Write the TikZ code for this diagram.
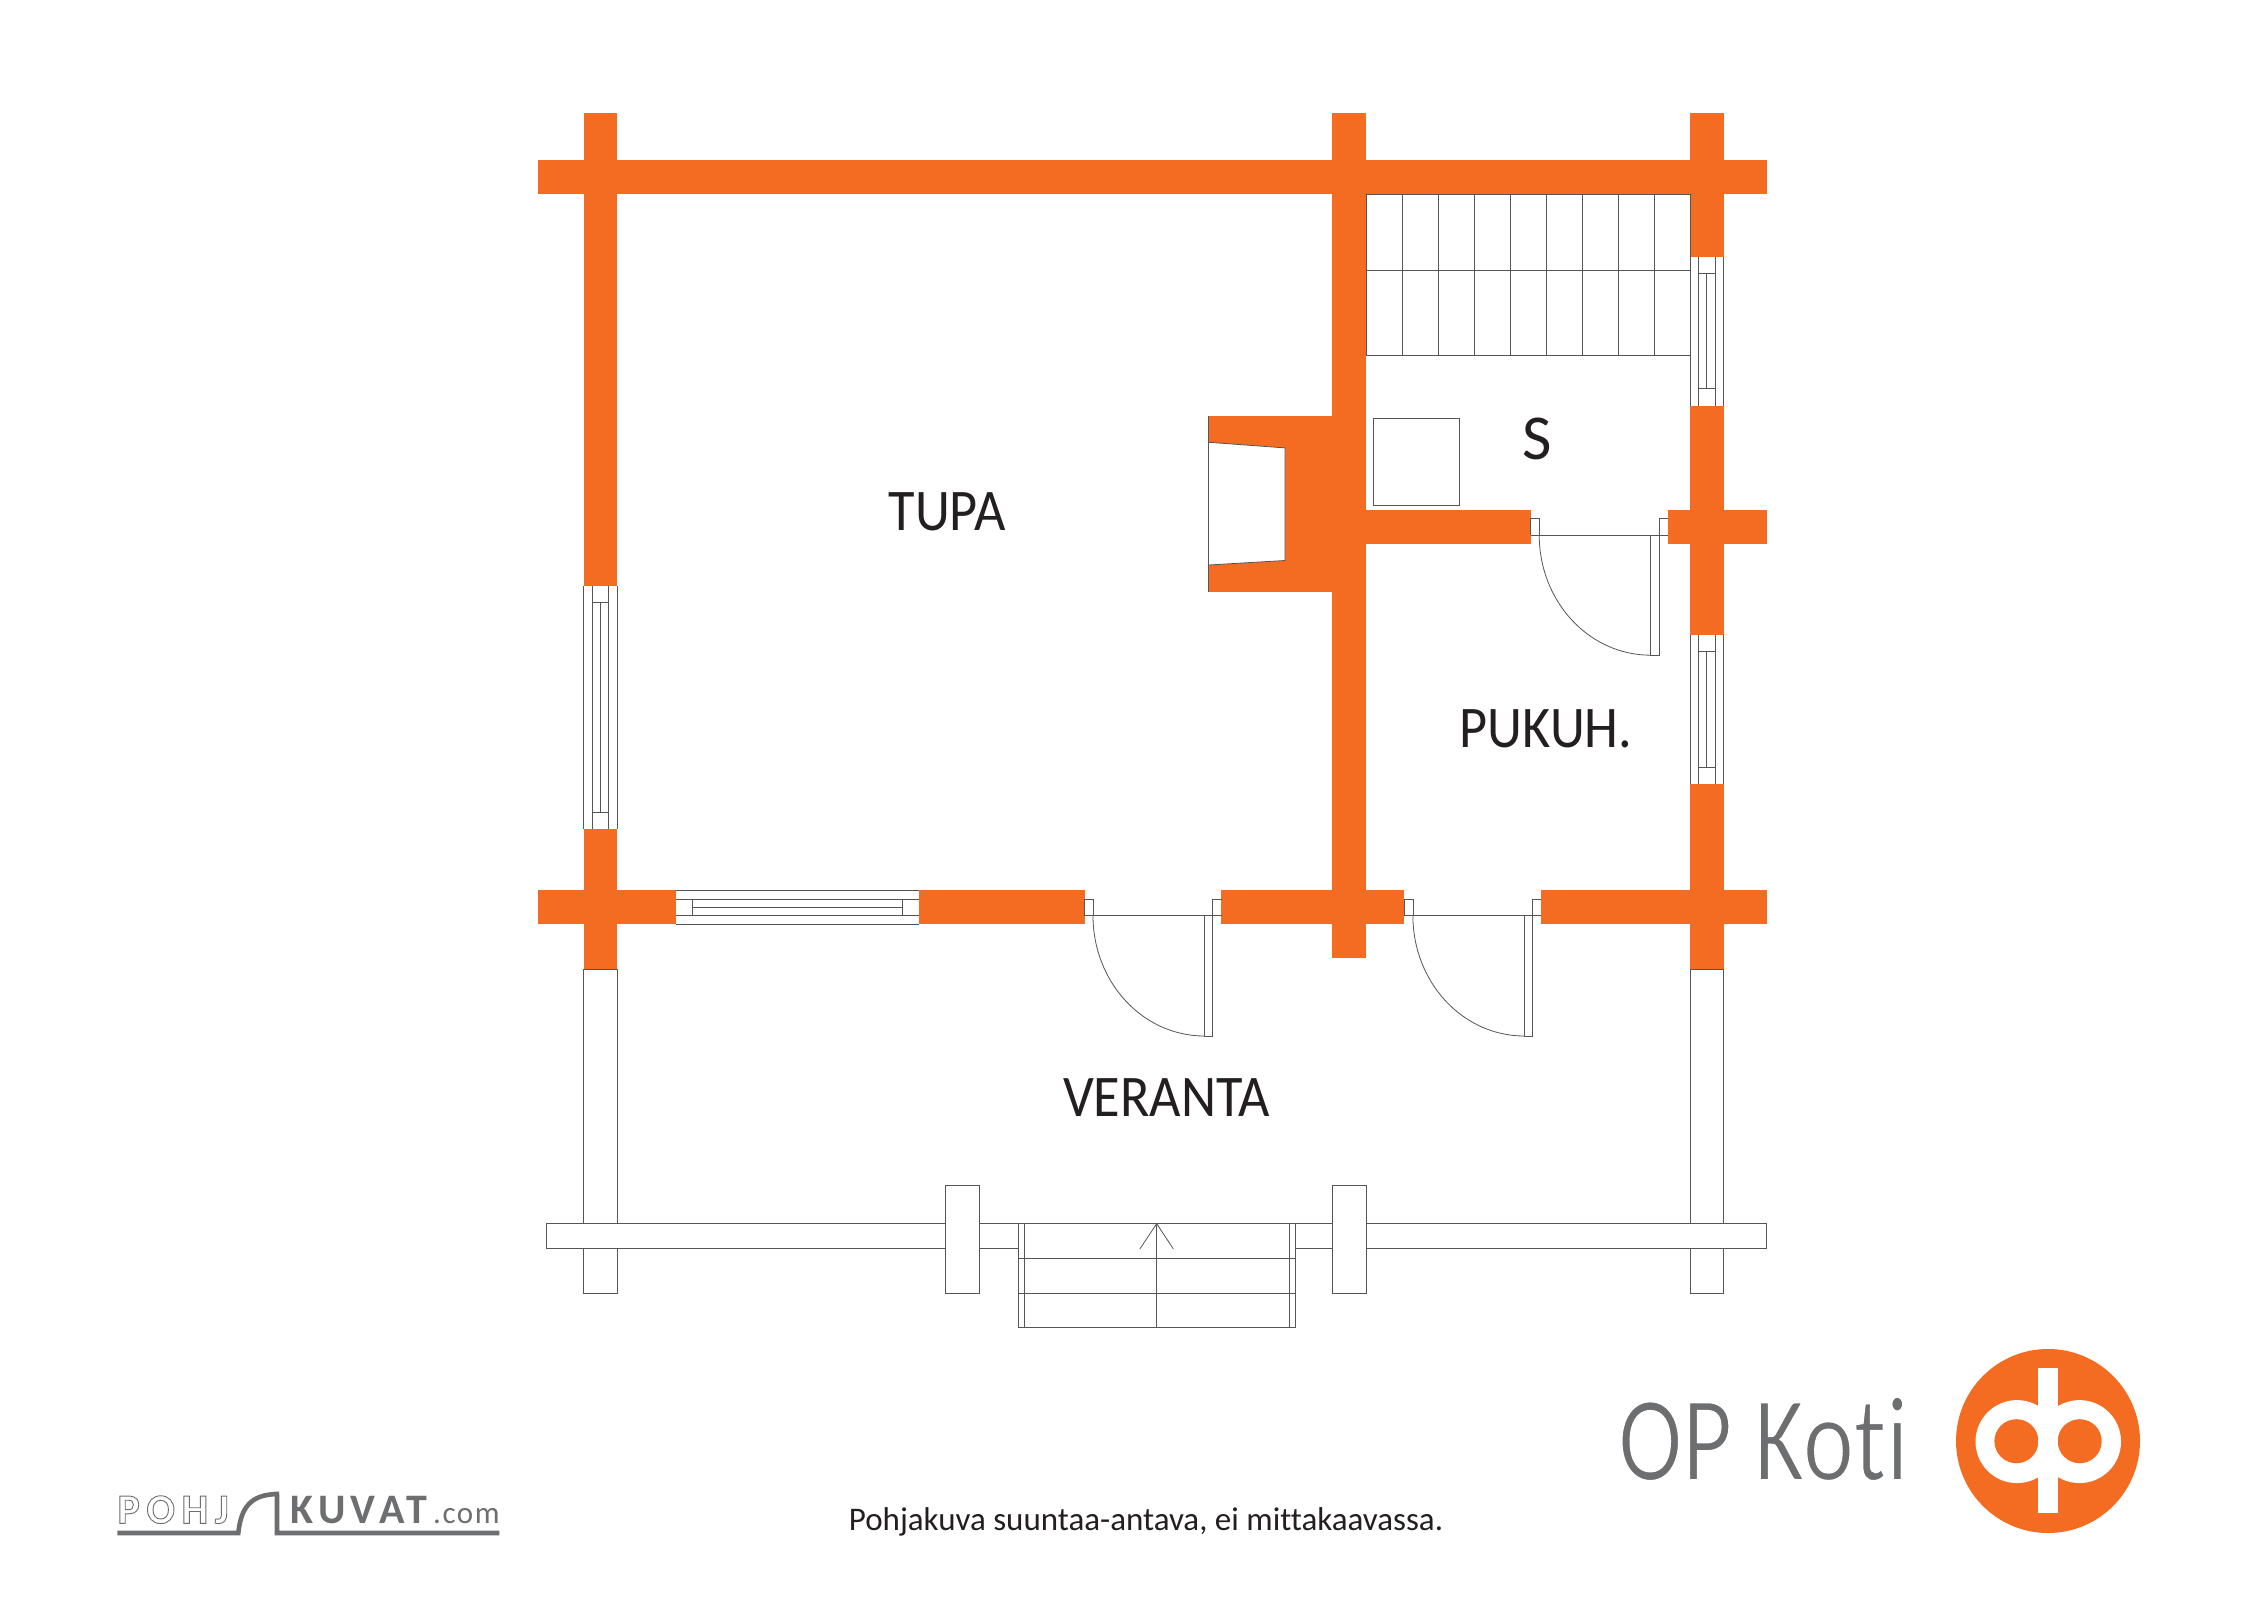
\documentclass[tikz,border=0pt]{standalone}
\usepackage{fontspec}
\usepackage{tikz}
\usetikzlibrary{calc}
\newfontfamily\labelfont[FakeStretch=.92]{Carlito}
\newfontfamily\sfont{Carlito}
\newfontfamily\kotifont[FakeStretch=.8,Ligatures=NoCommon]{Carlito}
\newfontfamily\notefont[Ligatures=NoCommon]{Carlito}
\newfontfamily\pohjfont[LetterSpace=16]{Carlito Bold}
\newfontfamily\kuvatfont[LetterSpace=13]{Carlito Bold}
\newfontfamily\comfont[LetterSpace=5]{Carlito}
\definecolor{oporange}{HTML}{F36C21}
\definecolor{plangrey}{HTML}{555555}
\definecolor{logogrey}{HTML}{6D6E70}
\definecolor{textblack}{HTML}{231F20}
\newcommand{\outlined}[1]{\special{pdf:code 1 Tr 0.9 w}#1\special{pdf:code 0 Tr}}
\newcommand{\slimmed}[1]{\special{pdf:code 2 Tr 1.8 w 1 1 1 RG}#1\special{pdf:code 0 Tr}}

\begin{document}
\begin{tikzpicture}[x=1pt,y=-1pt]
	\tikzstyle{wall}=[fill=oporange]
	\tikzstyle{plan}=[draw=plangrey,line width=.8pt,fill=white]
	\tikzstyle{thin}=[draw=plangrey,line width=.8pt]
	\tikzstyle{roomlabel}=[text=textblack,font=\labelfont\fontsize{59}{60}\selectfont]
	\tikzstyle{logotext}=[text=logogrey,inner sep=0pt,anchor=base west]
	\useasboundingbox[fill=white] (0,0) rectangle (2262,1600);

	% veranda
	\draw[plan] (583.5,969.3) rectangle (617.3,1293);
	\draw[plan] (1690,969.3) rectangle (1723.5,1293);
	\draw[plan] (546,1223.7) rectangle (1766.5,1248);
	\draw[plan] (945.3,1185.7) rectangle (979.6,1293);
	\draw[plan] (1332.3,1185.7) rectangle (1366.4,1293);
	\draw[plan] (1018,1223.7) rectangle (1295.5,1327.7);
	\draw[thin] (1024.5,1223.7) -- (1024.5,1327.7);
	\draw[thin] (1289,1223.7) -- (1289,1327.7);
	\draw[thin] (1018,1258.3) -- (1295.5,1258.3);
	\draw[thin] (1018,1293) -- (1295.5,1293);
	\draw[thin] (1156.7,1223.7) -- (1156.7,1327.7);
	\draw[thin] (1139.8,1249) -- (1156.7,1223.7) -- (1173.4,1249);

	% walls
	\fill[wall] (538.3,160.4) rectangle (1767,194);
	\fill[wall] (583.5,113) rectangle (617.3,586);
	\fill[wall] (583.5,829.3) rectangle (617.3,969.3);
	\fill[wall] (1332.3,113) rectangle (1366.4,958.3);
	\fill[wall] (1690,113) rectangle (1723.5,256.5);
	\fill[wall] (1690,405.5) rectangle (1723.5,634.9);
	\fill[wall] (1690,783.9) rectangle (1723.5,969.3);
	\fill[wall] (538.3,890.3) rectangle (675.8,924.3);
	\fill[wall] (919,890.3) rectangle (1084.5,924.3);
	\fill[wall] (1221.2,890.3) rectangle (1404.4,924.3);
	\fill[wall] (1541.2,890.3) rectangle (1767,924.3);
	\fill[wall] (1366,510) rectangle (1530.7,543.5);
	\fill[wall] (1667.7,510) rectangle (1767,543.5);

	% fireplace
	\fill[wall] (1208.8,415.8) rectangle (1333,592.2);
	\fill[white] (1208.8,442.3) -- (1285,447.9) -- (1285,560.5) -- (1208.8,565) -- cycle;
	\draw[thin] (1208.8,415.8) -- (1208.8,592.2);
	\draw[thin] (1208.8,442.3) -- (1285,447.9) -- (1285,560.5) -- (1208.8,565);

	% stairs
	\draw[thin] (1366.4,194) rectangle (1690,355);
	\draw[thin] (1366.4,270) -- (1690,270);
	\foreach \stepx in {1402,1438,...,1690}
		\draw[thin] (\stepx,194) -- (\stepx,355);

	% bench
	\draw[thin] (1373.4,418.2) rectangle (1459.5,505.2);

	% windows
	\foreach \winy/\winh in {586/243.3}{
		\fill[white] (583.5,\winy) rectangle (617.3,\winy+\winh);
		\draw[thin] (583.5,\winy) -- (583.5,\winy+\winh);
		\draw[thin] (617.3,\winy) -- (617.3,\winy+\winh);
		\draw[thin] (591.9,\winy) -- (591.9,\winy+\winh);
		\draw[thin] (608.8,\winy) -- (608.8,\winy+\winh);
		\draw[thin] (591.9,\winy+16.7) -- (608.8,\winy+16.7);
		\draw[thin] (591.9,\winy+\winh-16.7) -- (608.8,\winy+\winh-16.7);
		\draw[thin] (600.4,\winy+16.7) -- (600.4,\winy+\winh-16.7);
	}
	\foreach \winy in {256.5,634.9}{
		\fill[white] (1690,\winy) rectangle (1723.5,\winy+149);
		\draw[thin] (1690,\winy) -- (1690,\winy+149);
		\draw[thin] (1723.5,\winy) -- (1723.5,\winy+149);
		\draw[thin] (1698.3,\winy) -- (1698.3,\winy+149);
		\draw[thin] (1715.1,\winy) -- (1715.1,\winy+149);
		\draw[thin] (1698.3,\winy+16.7) -- (1715.1,\winy+16.7);
		\draw[thin] (1698.3,\winy+132.3) -- (1715.1,\winy+132.3);
		\draw[thin] (1706.7,\winy+16.7) -- (1706.7,\winy+132.3);
	}
	\fill[white] (675.8,890.3) rectangle (919,924.3);
	\draw[thin] (675.8,890.3) -- (919,890.3);
	\draw[thin] (675.8,924.3) -- (919,924.3);
	\draw[thin] (675.8,899) -- (919,899);
	\draw[thin] (675.8,915.7) -- (919,915.7);
	\draw[thin] (692.3,899) -- (692.3,915.7);
	\draw[thin] (902.6,899) -- (902.6,915.7);
	\draw[thin] (692.3,907.3) -- (902.6,907.3);

	% doors
	\foreach \doorx/\doory in {1530.7/518.2,1084.5/899,1404.4/899}{
		\begin{scope}[shift={(\doorx,\doory)}]
			\draw[thin] (0,16.7) -- (0,0) -- (8.5,0) -- (8.5,16.7);
			\draw[thin] (128.3,16.7) -- (128.3,0) -- (137,0);
			\draw[thin] (0,16.7) -- (137,16.7);
			\draw[thin] (120,16.7) rectangle (128.3,137);
			\draw[thin] (8.5,16.7) .. controls (8.5,83) and (58,137) .. (120,137);
		\end{scope}
	}

	% rooms
	\node[roomlabel] (tupa) at (947,512) {TUPA};
	\node[roomlabel,font=\sfont\fontsize{64}{65}\selectfont] (sauna) at (1537,439) {S};
	\node[roomlabel] (pukuh) at (1546,728.5) {PUKUH.};
	\node[roomlabel] (veranta) at (1166.5,1097.7) {VERANTA};
	\node[text=textblack,font=\notefont\fontsize{33}{34}\selectfont] (note) at (1146,1522) {Pohjakuva suuntaa-antava, ei mittakaavassa.};

	% OP logo
	\node[logotext,font=\kotifont\fontsize{121}{122}\selectfont] (koti) at (1618,1480) {\slimmed{OP Koti}};
	\fill[oporange] (2048,1441) circle (92);
	\fill[white] (2017,1441.6) circle (41.5);
	\fill[white] (2079.5,1441.6) circle (41.5);
	\fill[oporange] (2016.4,1441.2) circle (22);
	\fill[oporange] (2079.7,1441.2) circle (22);
	\fill[white] (2038.4,1368.3) rectangle (2057.6,1513.3);

	% pohjakuvat logo
	\draw[draw=logogrey,line width=4.6pt] (117.3,1533) -- (238.3,1533) .. controls (241,1508) and (250,1494) .. (279,1494) -- (277,1494) -- (277,1533) -- (499.3,1533);
	\node[logotext,font=\pohjfont\fontsize{42}{43}\selectfont] (pohj) at (117.3,1523.3) {\outlined{POHJ}};
	\node[logotext,font=\kuvatfont\fontsize{42}{43}\selectfont] (kuvat) at (290,1523.3) {KUVAT};
	\node[logotext,font=\comfont\fontsize{31}{32}\selectfont] (com) at (433,1523.3) {.com};
\end{tikzpicture}
\end{document}
